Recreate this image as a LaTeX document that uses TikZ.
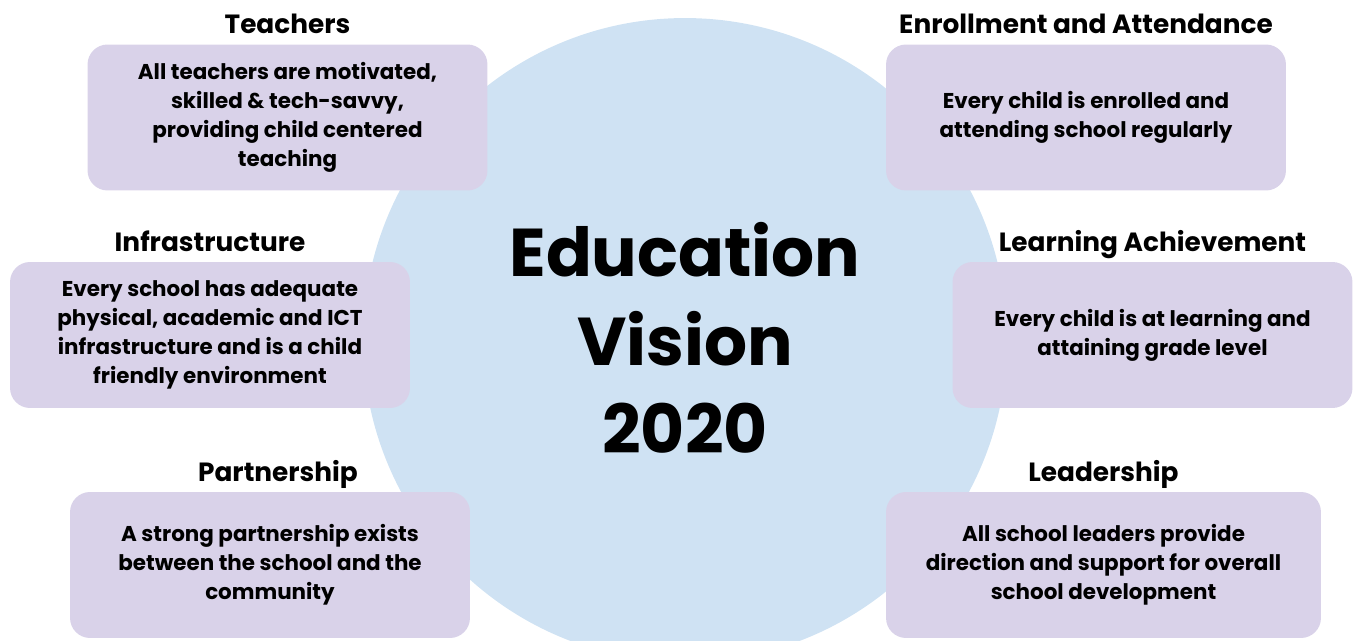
\documentclass[tikz,border=0pt]{standalone}
\usepackage{fontspec}
\setmainfont{Poppins}
\usetikzlibrary{positioning}

\definecolor{visionblue}{HTML}{CFE2F3}
\definecolor{goallilac}{HTML}{D9D2E9}

\tikzstyle{goal}  = [fill=goallilac, draw=none, rounded corners=4mm, minimum width=8cm, minimum height=2.92cm, align=center, inner sep=0pt, font=\bfseries\fontsize{12.2}{16.5}\selectfont]
\tikzstyle{head}  = [inner sep=0pt, text depth=0pt, font=\bfseries\fontsize{15}{18}\selectfont]

\begin{document}
\begin{tikzpicture}[x=0.02cm, y=-0.02cm]
     \useasboundingbox (0,0) rectangle (1353,641);
     % the big circle behind everything
     \fill[visionblue] (685,340) circle (6.44cm);
     \node[align=center, font=\bfseries\fontsize{38.5}{50.5}\selectfont] (vision) at (685,338) {Education\\Vision\\2020};

     % left column
     \draw
       node[goal] (teachers) at (287.5,117.5) {All teachers are motivated,\\skilled \& tech-savvy,\\providing child centered\\teaching}
       node[goal] (infra)    at (210,335)     {Every school has adequate\\physical, academic and ICT\\infrastructure and is a child\\friendly environment}
       node[goal] (partner)  at (270,565)     {A strong partnership exists\\between the school and the\\community};
     % right column
     \draw
       node[goal] (enrol)    at (1086,117.5)  {Every child is enrolled and\\attending school regularly}
       node[goal] (learning) at (1152.5,335)  {Every child is at learning and\\attaining grade level}
       node[goal, minimum width=8.7cm] (leader) at (1103.5,565) {All school leaders provide\\direction and support for overall\\school development};

     % headings
     \node[head, above=0.2cm of teachers] (teachershead) {Teachers};
     \node[head, above=0.2cm of infra]    (infrahead)    {Infrastructure};
     \node[head, above=0.2cm of partner, xshift=0.16cm] (partnerhead) {Partnership};
     \node[head, above=0.2cm of enrol]    (enrolhead)    {Enrollment and Attendance};
     \node[head, above=0.2cm of learning] (learninghead) {Learning Achievement};
     \node[head, above=0.2cm of leader]   (leaderhead)   {Leadership};
\end{tikzpicture}
\end{document}
